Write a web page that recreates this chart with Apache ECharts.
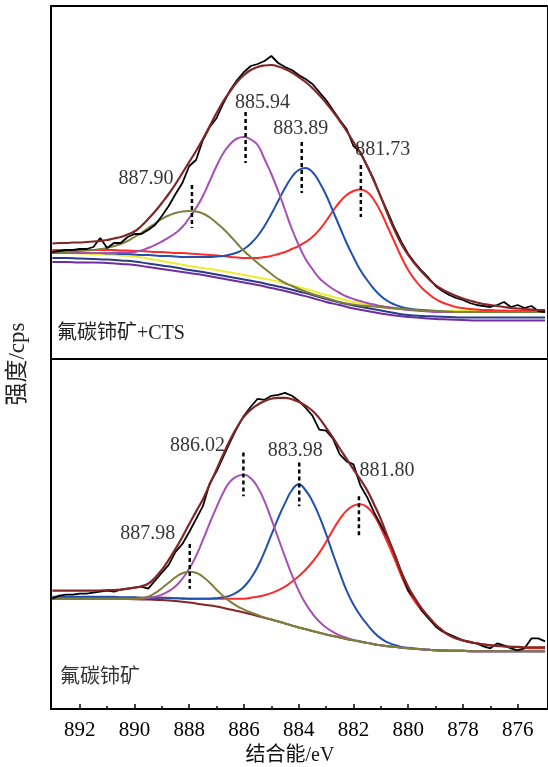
<!DOCTYPE html>
<html>
<head>
<meta charset="utf-8">
<script src="https://cdn.jsdelivr.net/npm/echarts@6/dist/echarts.min.js"></script>
<style>
  html, body { margin: 0; padding: 0; background: #fff; }
  #chart { width: 548px; height: 767px; }
</style>
</head>
<body>
<div id="chart"></div>
<script>
// Ce 3d5/2 XPS spectra: bastnaesite treated with CTS (top) and untreated bastnaesite (bottom)

// binding energy grid for backgrounds (eV)
const energyCoarse = [893, 892.5, 892, 891.5, 891, 890.5, 890, 889.5, 889, 888.5, 888, 887.5, 887, 886.5, 886, 885.5, 885, 884.5, 884, 883.5, 883, 882.5, 882, 881.5, 881, 880.5, 880, 879.5, 879, 878.5, 878, 877.5, 877, 876.5, 876, 875.5, 875];

// binding energy grid for spectra, fitted peaks and envelopes (eV)
const energyFine = [893,
  892.75, 892.5, 892.25, 892, 891.75, 891.5, 891.25, 891, 890.75, 890.5, 890.25, 890,
  889.75, 889.5, 889.25, 889, 888.75, 888.5, 888.25, 888, 887.75, 887.5, 887.25, 887,
  886.75, 886.5, 886.25, 886, 885.75, 885.5, 885.25, 885, 884.75, 884.5, 884.25, 884,
  883.75, 883.5, 883.25, 883, 882.75, 882.5, 882.25, 882, 881.75, 881.5, 881.25, 881,
  880.75, 880.5, 880.25, 880, 879.75, 879.5, 879.25, 879, 878.75, 878.5, 878.25, 878,
  877.75, 877.5, 877.25, 877, 876.75, 876.5, 876.25, 876, 875.75, 875.5, 875.25, 875];

// ---- 氟碳铈矿+CTS ----
const ctsRaw = [106,
  107, 108, 108, 109, 109, 111, 120, 110, 115, 115, 121, 124,
  124, 128, 133, 142, 152, 164, 175, 192, 198, 218, 231, 240,
  255, 268, 278, 286, 292, 294, 297, 302, 295, 291, 288, 283,
  279, 274, 266, 258, 248, 238, 229, 212, 206, 192, 178, 161,
  146, 130, 116, 104, 95, 87, 80, 72, 67, 63, 60, 58,
  55, 53, 52, 51, 53, 56, 51, 53, 50, 52, 47, 46];
const ctsEnvelope = [114.5,
  115, 115, 115.5, 115.5, 116, 116.5, 117, 118, 119.5, 121, 123.5, 126.5,
  132, 139, 146.5, 155, 164, 174, 185, 196, 207, 219, 232, 245,
  257, 267, 276, 283, 288, 291, 292.5, 293, 291.5, 289, 285.5, 281,
  276, 270, 263, 255, 246.5, 237, 227, 216, 205, 192, 177, 161,
  144, 128, 114, 103, 94, 86, 79, 73, 68.5, 65, 62, 59.5,
  57.5, 55.5, 54, 53, 52, 51, 50, 49.5, 49, 48.5, 48, 48];
const ctsPeak1 = [106,
  106, 106, 106.5, 107, 107.5, 108, 109, 110, 112, 114, 117, 121,
  125, 130, 134.5, 139, 142.5, 145, 146.5, 147, 146.5, 144.5, 140.5, 135,
  129, 122, 114.5, 107, 101, 95, 89.5, 84, 79, 75, 72, 69,
  66.5, 64, 62, 60, 58, 56, 54.5, 53.5, 52.5, 52, 51.5, 51,
  50, 49.5, 49, 48.5, 48, 47.5, 47, 47, 46.5, 46.5, 46, 46,
  46, 46, 46, 46, 46, 46, 46, 46, 46, 46, 46, 46];
const ctsPeak2 = [105,
  105, 105, 105, 105, 105, 105, 105, 105, 105, 105.5, 105.5, 106,
  107.5, 110, 113, 116.5, 120.5, 125, 131, 140, 150, 162, 177, 192,
  205, 214, 219.5, 221, 218.5, 213, 199, 184, 167, 148, 129, 113,
  99, 89, 80, 74, 69, 65, 61.5, 59, 57, 55, 53.5, 52,
  51, 50, 49, 48, 47.5, 47, 46.5, 46, 46, 46, 46, 46,
  46, 46, 46, 46, 46, 46, 46, 46, 46, 46, 46, 46];
const ctsPeak3 = [105,
  105, 105, 105, 105, 105, 105, 105, 104.5, 104.5, 104, 104, 103.5,
  103, 103, 102.5, 102, 102, 101.5, 101, 101, 101, 101, 101, 101.5,
  102, 103.5, 105.5, 109, 114.5, 122, 132, 144, 157, 170, 181, 188,
  190, 186, 176, 163, 147, 131, 115, 101, 88, 78, 69, 62,
  57, 53.5, 51, 49.5, 48.5, 48, 47.5, 47, 46.5, 46, 46, 46,
  46, 46, 46, 46, 46, 46, 46, 46, 46, 46, 46, 46];
const ctsPeak4 = [108,
  108, 108, 108, 108, 108, 108, 108, 108, 108, 107.5, 107.5, 107,
  107, 106.5, 106, 106, 105.5, 105, 105, 104.5, 104, 103.5, 103, 102.5,
  102, 101, 100.5, 100, 100, 100, 101, 102, 104, 106, 109, 112,
  116, 121, 128, 137, 147, 156, 163, 167, 168.5, 166, 158, 146,
  131, 116, 101, 88, 78, 70, 64, 59, 55.5, 53, 51, 50,
  49, 48.5, 48, 48, 47.5, 47.5, 47, 47, 47, 47, 47, 47];
const ctsBgYellow = [105, 105, 104.5, 104, 103.5, 102.5, 101.5, 99.5, 97, 94.5, 92, 90, 88, 85.5, 83, 80.5, 78, 74.5, 71, 67, 63, 59.5, 56, 53.5, 51, 49.5, 48.5, 48, 47.5, 47, 47, 47, 47, 47, 47, 47, 47];
const ctsBgNavy = [100, 100, 99.5, 99, 98.5, 97.5, 96.5, 94.5, 92.5, 90.5, 88, 86, 83.5, 81, 78.5, 76, 73, 70, 66.5, 63, 59, 55.5, 52.5, 50, 47.5, 45, 43, 42, 41.5, 41, 40.5, 40.5, 40.5, 40.5, 40.5, 40.5, 40.5];
const ctsBgPurple = [96, 96, 95.5, 95.5, 95, 94, 93, 91, 89, 87, 85, 83, 80.5, 78, 75.5, 73, 70, 67, 63.5, 60, 56, 53, 49.5, 47, 44.5, 42.5, 41, 40, 39, 38.5, 38, 37.5, 37.5, 37.5, 37.5, 37.5, 37.5];
const ctsPeakEnergy = [887.90, 885.94, 883.89, 881.73];
const ctsMarkTop = [173, 246, 216, 193];
const ctsMarkBottom = [130, 195, 165, 141];

// ---- 氟碳铈矿 ----
const basRaw = [111,
  114, 115, 115, 116, 116, 117, 118, 119, 118, 120, 121, 122,
  123, 121, 129, 137, 145, 158, 166, 178, 191, 204, 227, 239,
  254, 269, 283, 295, 304, 312, 311, 315, 316, 318, 315, 310,
  303, 295, 281, 280, 272, 256, 249, 246, 225, 213, 198, 185,
  172, 156, 137, 119, 111, 99, 91, 83, 78, 75, 72, 69,
  67, 66, 63, 61, 66, 64, 61, 59, 61, 71, 71, 68];
const basEnvelope = [119,
  119, 119, 119, 119, 119, 119, 119.2, 119.5, 119.7, 120, 121, 122,
  123.5, 126, 132, 140, 150, 161, 173, 186, 198.5, 211, 226, 241,
  256.5, 271, 283.5, 294, 301, 306, 309.5, 312, 313, 313, 311.5, 309,
  305, 300, 292.5, 283, 273, 262, 251.5, 241, 231, 220, 206, 191,
  173, 156, 138, 123, 111, 101, 92.5, 85, 79, 74, 71, 69,
  67.5, 66, 65, 64, 63.5, 63, 62.5, 62.5, 62, 62, 62, 62];
const basPeak1 = [111,
  111, 111, 111, 111, 111, 111, 111, 111, 111, 111, 111, 111,
  111.5, 113, 116.5, 121.5, 127, 132.5, 136.5, 138, 137, 133, 127, 120,
  113.5, 108, 103.5, 100, 97, 94.5, 92, 90, 88, 86, 84, 82,
  80.3, 78.5, 76.7, 75, 73.5, 72, 70.5, 69, 67.8, 66.5, 65.2, 64,
  63.2, 62.5, 61.7, 61, 60.5, 60, 59.5, 59, 58.8, 58.7, 58.6, 58.5,
  58, 58, 58, 58, 58, 58, 58, 58, 58, 58, 58, 58];
const basPeak2 = [111,
  111, 111, 111, 111, 111, 111, 111, 111, 111, 111, 111, 111,
  111, 112, 113, 115, 118.5, 123.5, 131, 141, 154, 170, 187, 203,
  218, 229, 234, 235.5, 232, 223, 209, 191, 172, 153, 135, 119,
  106, 96, 88, 82, 77.5, 74, 71.5, 69.5, 68, 66.5, 65.2, 64,
  63.2, 62.5, 61.7, 61, 60.5, 60, 59.5, 59, 58.8, 58.7, 58.6, 58.5,
  58, 58, 58, 58, 58, 58, 58, 58, 58, 58, 58, 58];
const basPeak3 = [113,
  113, 113, 113, 113, 113, 113, 113, 113, 113, 112.5, 112.5, 112.5,
  112, 112, 112, 112, 111.5, 111.5, 111, 111, 111, 111, 111, 111.5,
  112.5, 114, 117.5, 123, 131.5, 143, 158, 175, 192, 207, 220, 226,
  220, 209, 194, 176, 156, 137, 119, 105, 94, 85, 77, 71,
  67, 64.5, 62.5, 61.5, 60.7, 60, 59.5, 59, 58.8, 58.7, 58.6, 58.5,
  58, 58, 58, 58, 58, 58, 58, 58, 58, 58, 58, 58];
const basPeak4 = [112,
  112, 112, 112, 112, 112, 112, 112, 112, 112, 112, 112, 112,
  112, 112, 112, 112, 112, 111.5, 111.5, 111, 111, 111, 111, 111,
  111, 111, 111, 111, 112, 113, 114.5, 116.5, 119.5, 123, 128, 133.5,
  140, 148, 157, 168, 180, 191, 199.5, 204.5, 206, 203, 195, 182,
  167, 151, 134, 119, 108, 99, 91, 84, 78.5, 74, 71, 69,
  67.5, 66, 65, 64, 63.5, 63, 62.5, 62, 61.5, 61, 61, 61];
const basBg = [111, 111, 111, 111, 111, 110.7, 110.5, 110, 109.5, 108.5, 107, 105, 103, 100, 97, 93.5, 90, 86, 82, 78.5, 75, 72, 69, 66.5, 64, 62.5, 61, 60, 59, 58.7, 58.5, 58, 58, 58, 58, 58, 58];
const basPeakEnergy = [887.98, 886.02, 883.98, 881.80];
const basMarkTop = [166, 258, 248, 214];
const basMarkBottom = [121, 214, 204, 173];

// axis ticks
const majorTicks = [892, 890, 888, 886, 884, 882, 880, 878, 876];
const minorTicks = [891, 889, 887, 885, 883, 881, 879, 877];

// ---- styling ----
const SERIF = '"Liberation Serif", "Times New Roman", "Noto Sans CJK SC", serif';
const C = {
  raw: '#000000',
  envelope: '#822626',
  olive: '#7f7f3c',
  violet: '#a550b5',
  blue: '#2150ae',
  red: '#ff2a2a',
  yellow: '#ecec34',
  navy: '#2d3a86',
  purple: '#6e2da0'
};
// label offsets (px) from the top of each dashed marker
const ctsLabelOffset = [[-46, -6], [17, -9], [-1, -13], [22, -15]];
const basLabelOffset = [[-42, -10], [-46, -7], [-4, -12], [28, -25]];

function pairs(xs, ys) { return xs.map((x, i) => [x, ys[i]]); }

function curve(name, xs, ys, color, width, gi, smooth, z) {
  return {
    name, type: 'line', xAxisIndex: gi === 0 ? 0 : 1, yAxisIndex: gi,
    data: pairs(xs, ys), showSymbol: false, symbol: 'none',
    smooth: smooth, z: z || 2, silent: true, animation: false,
    lineStyle: { color, width }
  };
}

function markers(gi, energies, tops, bottoms, offsets) {
  const out = [];
  energies.forEach((e, i) => {
    out.push({
      type: 'line', xAxisIndex: gi === 0 ? 0 : 1, yAxisIndex: gi,
      data: [[e, tops[i]], [e, bottoms[i]]], symbol: 'none', z: 5, animation: false, silent: true,
      lineStyle: { color: '#000', width: 2.5, type: [4, 3] }
    });
    out.push({
      type: 'scatter', xAxisIndex: gi === 0 ? 0 : 1, yAxisIndex: gi,
      data: [[e, tops[i]]], symbolSize: 0, z: 6, animation: false, silent: true,
      label: {
        show: true, position: 'inside', offset: offsets[i],
        formatter: () => e.toFixed(2),
        fontFamily: SERIF, fontSize: 20, color: '#000'
      }
    });
  });
  return out;
}

const X_MIN = 874.893, X_MAX = 893.049;

const chart = echarts.init(document.getElementById('chart'), null, { renderer: 'canvas' });

const series = [
  // top panel
  curve('bgPurple', energyCoarse, ctsBgPurple, C.purple, 2, 0, true),
  curve('bgNavy', energyCoarse, ctsBgNavy, C.navy, 2, 0, true),
  curve('bgYellow', energyCoarse, ctsBgYellow, C.yellow, 2, 0, true),
  curve('p4', energyFine, ctsPeak4, C.red, 2, 0, true),
  curve('p3', energyFine, ctsPeak3, C.blue, 2, 0, true),
  curve('p2', energyFine, ctsPeak2, C.violet, 2, 0, true),
  curve('p1', energyFine, ctsPeak1, C.olive, 2, 0, true),
  curve('raw', energyFine, ctsRaw, C.raw, 1.8, 0, false, 3),
  curve('envelope', energyFine, ctsEnvelope, C.envelope, 2.2, 0, true, 4),
  // bottom panel
  curve('bg', energyCoarse, basBg, C.envelope, 2, 1, true),
  curve('p4', energyFine, basPeak4, C.red, 2, 1, true),
  curve('p3', energyFine, basPeak3, C.blue, 2, 1, true),
  curve('p2', energyFine, basPeak2, C.violet, 2, 1, true),
  curve('p1', energyFine, basPeak1, C.olive, 2, 1, true),
  curve('raw', energyFine, basRaw, C.raw, 1.8, 1, false, 3),
  curve('envelope', energyFine, basEnvelope, C.envelope, 2.2, 1, true, 4)
].concat(
  markers(0, ctsPeakEnergy, ctsMarkTop, ctsMarkBottom, ctsLabelOffset),
  markers(1, basPeakEnergy, basMarkTop, basMarkBottom, basLabelOffset)
);

chart.setOption({
  animation: false,
  backgroundColor: '#ffffff',
  grid: [
    { left: 51, top: 6, width: 502, height: 353, show: true, borderColor: '#000', borderWidth: 2, backgroundColor: 'transparent' },
    { left: 51, top: 359, width: 502, height: 352, show: true, borderColor: '#000', borderWidth: 2, backgroundColor: 'transparent' }
  ],
  xAxis: [
    { gridIndex: 0, type: 'value', min: X_MIN, max: X_MAX, inverse: true, show: false },
    {
      gridIndex: 1, type: 'value', min: X_MIN, max: X_MAX, inverse: true, position: 'bottom',
      axisLine: { show: true, onZero: false, lineStyle: { color: '#000', width: 2 } },
      axisTick: { show: true, inside: true, length: 5, customValues: majorTicks, lineStyle: { color: '#000', width: 1.5 } },
      axisLabel: { show: true, customValues: majorTicks, margin: 11, fontFamily: SERIF, fontSize: 21, color: '#000' },
      splitLine: { show: false },
      name: '结合能/eV', nameLocation: 'middle', nameGap: 37,
      nameTextStyle: { fontFamily: SERIF, fontSize: 20, color: '#111', padding: [0, 19, 0, 0] }
    },
    {
      gridIndex: 1, type: 'value', min: X_MIN, max: X_MAX, inverse: true, position: 'bottom', offset: 0,
      axisLine: { show: false },
      axisTick: { show: true, inside: true, length: 3, customValues: minorTicks, lineStyle: { color: '#000', width: 1.5 } },
      axisLabel: { show: false },
      splitLine: { show: false }
    }
  ],
  yAxis: [
    { gridIndex: 0, type: 'value', min: -1, max: 352, show: false },
    { gridIndex: 1, type: 'value', min: 0, max: 352, show: false }
  ],
  graphic: [
    {
      type: 'text', x: 18, y: 364, rotation: Math.PI / 2, silent: true,
      style: { text: '强度/cps', fontFamily: SERIF, fontSize: 23, fill: '#222', align: 'center', verticalAlign: 'middle' }
    },
    {
      type: 'text', x: 57, y: 334, silent: true,
      style: { text: '氟碳铈矿+CTS', fontFamily: SERIF, fontSize: 20, fill: '#222', align: 'left', verticalAlign: 'middle' }
    },
    {
      type: 'text', x: 60, y: 678, silent: true,
      style: { text: '氟碳铈矿', fontFamily: SERIF, fontSize: 20, fill: '#333', align: 'left', verticalAlign: 'middle' }
    }
  ],
  series
});
</script>
</body>
</html>
